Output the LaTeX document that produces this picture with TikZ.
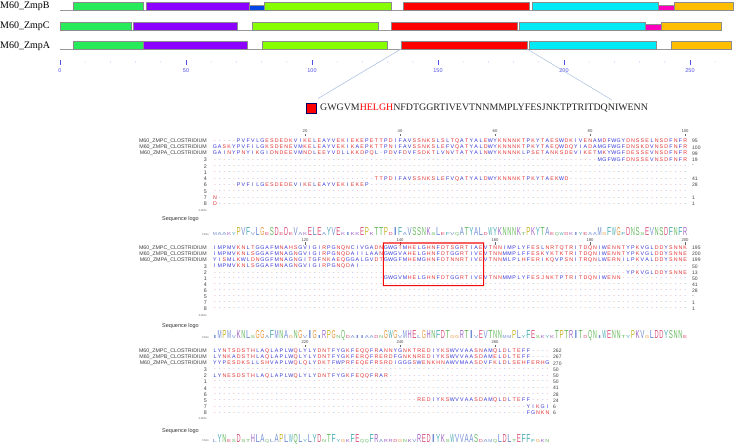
\documentclass[tikz,border=0pt]{standalone}
\usepackage{fontspec}
\usepackage{graphicx}
\setmainfont{Liberation Serif}
\newfontfamily\alnfont{Liberation Sans}
\definecolor{dgreen}{RGB}{40,235,90}
\definecolor{dpurple}{RGB}{140,0,255}
\definecolor{dblue}{RGB}{0,70,230}
\definecolor{dlime}{RGB}{135,255,0}
\definecolor{dred}{RGB}{255,0,0}
\definecolor{boxred}{RGB}{245,10,10}
\definecolor{dcyan}{RGB}{0,235,245}
\definecolor{dmag}{RGB}{255,0,190}
\definecolor{dorange}{RGB}{255,190,0}
\definecolor{seqb}{RGB}{50,50,215}
\definecolor{seqr}{RGB}{228,45,45}
\definecolor{dashr}{RGB}{240,140,140}
\definecolor{dashb}{RGB}{140,140,240}
\definecolor{rulblue}{RGB}{80,80,230}
\definecolor{zoomline}{RGB}{175,195,225}
\definecolor{lgb}{RGB}{110,140,210}
\definecolor{lgt}{RGB}{70,170,180}
\definecolor{lgo}{RGB}{235,150,60}
\definecolor{lgy}{RGB}{200,180,40}
\definecolor{lgg}{RGB}{100,185,90}
\definecolor{lgr}{RGB}{220,80,120}
\definecolor{lgp}{RGB}{160,100,200}
\makeatletter
\newcount\colidx
\newcount\gapcnt
\def\setac#1#2{\expandafter\def\csname ac@#1\endcsname{\color{#2}}}
\def\setlc#1#2{\expandafter\def\csname lc@#1\endcsname{\color{#2}}}
\@tfor\x:=AVILMFWYPGC\do{\expandafter\setac\x{seqb}}
\@tfor\x:=DEKRHSTNQJ\do{\expandafter\setac\x{seqr}}
\expandafter\def\csname ac@-\endcsname{\ifodd\colidx\color{dashr}\else\color{dashb}\fi}
\@tfor\x:=AVILM\do{\expandafter\setlc\x{lgb}}
\@tfor\x:=FWY\do{\expandafter\setlc\x{lgt}}
\@tfor\x:=G\do{\expandafter\setlc\x{lgo}}
\@tfor\x:=PC\do{\expandafter\setlc\x{lgy}}
\@tfor\x:=STNQ\do{\expandafter\setlc\x{lgg}}
\@tfor\x:=DE\do{\expandafter\setlc\x{lgr}}
\@tfor\x:=KRH\do{\expandafter\setlc\x{lgp}}
\def\alnchar#1{\global\advance\colidx by 1\relax\makebox[4.75pt][c]{\csname ac@#1\endcsname #1}}
\def\aseg#1{\aseg@loop#1\relax}
\def\aseg@loop#1{\ifx#1\relax\else\alnchar{#1}\expandafter\aseg@loop\fi}
\def\agap#1{\gapcnt=#1\relax\loop\ifnum\gapcnt>0 \alnchar{-}\advance\gapcnt by -1 \repeat}
\def\lgtall{8pt}
\def\lgshort{3pt}
\def\lgbox#1#2{\makebox[4.75pt][c]{\csname lc@#2\endcsname\resizebox{4.1pt}{#1}{#2}}}
\def\lgchar#1{\ifnum`#1>`Z\relax\uppercase{\lgbox\lgshort{#1}}\else\lgbox\lgtall{#1}\fi}
\def\alogo#1{\alogo@loop#1\relax}
\def\alogo@loop#1{\ifx#1\relax\else\lgchar{#1}\expandafter\alogo@loop\fi}
\makeatother
\tikzset{
  dom/.style={draw=black!45, line width=0.4pt},
  baseln/.style={draw=black!40, line width=0.6pt},
  toplab/.style={anchor=west, inner sep=0, font=\fontsize{10}{10}\selectfont},
  rulnumtop/.style={inner sep=0, font=\alnfont\fontsize{5.5}{5.5}\selectfont, text=rulblue},
  rowlab/.style={anchor=east, inner sep=0, font=\alnfont\fontsize{5.3}{5.3}\selectfont, text=black!75},
  rowseq/.style={anchor=west, inner sep=0, font=\alnfont\fontsize{5.3}{5.3}\selectfont},
  rownum/.style={anchor=west, inner sep=0, font=\alnfont\fontsize{5}{5}\selectfont, text=black!75},
  rulnum/.style={inner sep=0, font=\alnfont\fontsize{4.2}{4.2}\selectfont, text=black!70},
  rultick/.style={draw=black!60, line width=0.4pt},
  logolab/.style={anchor=east, inner sep=0, font=\alnfont\fontsize{5.5}{5.5}\selectfont, text=black!80},
  bitslab/.style={anchor=east, inner sep=0, font=\alnfont\fontsize{2.8}{2.8}\selectfont, text=black!60},
  logo/.style={anchor=base west, inner sep=0, font=\alnfont\fontsize{6}{6}\selectfont},
  hlbox/.style={fill=boxred, even odd rule},
}
\newcommand\alnrows[5]{%
  \foreach \lab/\content/\num [count=\k from 0] in {#5} {
    \node[rowlab] (#1l\k) at (207, {#2+#3*\k}) {\lab};
    \node[rowseq] (#1s\k) at (212.4, {#2+#3*\k}) {\global\colidx=0 \content};
    \node[rownum] (#1n\k) at (#4, {#2+#3*\k}) {\num};
  }}
\newcommand\alnruler[4]{%
  \foreach \t in {1,...,#4} {
    \pgfmathtruncatemacro\val{#3+20*\t}
    \node[rulnum] (#1r\t) at ({212.4+(20*\t-0.5)*4.75}, #2) {\val};
    \draw[rultick] (#1r\t.south) ++(0,0.6) -- ++(0,2.6);
  }}
\begin{document}
\begin{tikzpicture}[x=1pt,y=-1pt]
\useasboundingbox (0,0) rectangle (739,445);
% ---------- domain architecture ----------
\node[toplab] (nB) at (0,6.5) {M60\_ZmpB};
\node[toplab] (nC) at (0,26.5) {M60\_ZmpC};
\node[toplab] (nA) at (0,46) {M60\_ZmpA};
% ZmpB
\draw[baseln] (60,10) -- (733,10);
\draw[dom, fill=dgreen] (73,2.5) rectangle (143,10);
\draw[dom, fill=dpurple] (146,2.5) rectangle (249,10);
\draw[dom, fill=dblue] (249,5) rectangle (264,10);
\draw[dom, fill=dlime] (264,2.5) rectangle (391,10);
\draw[dom, fill=dred] (403,2.5) rectangle (529,10);
\draw[dom, fill=dcyan] (532,2.5) rectangle (658,10);
\draw[dom, fill=dmag] (658,4.7) rectangle (674,10);
\draw[dom, fill=dorange] (674,2.5) rectangle (733,10);
% ZmpC
\draw[baseln] (60,30) -- (721,30);
\draw[dom, fill=dgreen] (60,22) rectangle (131,30);
\draw[dom, fill=dpurple] (133,22) rectangle (237,30);
\draw[dom, fill=dlime] (252,22) rectangle (378,30);
\draw[dom, fill=dred] (391,22) rectangle (517,30);
\draw[dom, fill=dcyan] (519,22) rectangle (645,30);
\draw[dom, fill=dmag] (645,24.5) rectangle (661,30);
\draw[dom, fill=dorange] (661,22) rectangle (721,30);
% ZmpA
\draw[baseln] (60,49) -- (731,49);
\draw[dom, fill=dgreen] (73,41.5) rectangle (143,49);
\draw[dom, fill=dpurple] (143,41.5) rectangle (247,49);
\draw[dom, fill=dlime] (262,41.5) rectangle (387,49);
\draw[dom, fill=dred] (401,41.5) rectangle (527,49);
\draw[dom, fill=dcyan] (529,41.5) rectangle (656,49);
\draw[dom, fill=dorange] (671,41.5) rectangle (731,49);
% ruler
\foreach \n in {10,20,...,270} {
  \fill[rulblue!60] ({60+2.52*\n},62) circle (0.45);
}
\foreach \n in {0,50,...,250} {
  \draw[rulblue, line width=0.6pt] ({60+2.52*\n},60) -- ({60+2.52*\n},64.5);
  \node[rulnumtop] (t\n) at ({60+2.52*\n},70.5) {\n};
}
% zoom lines and motif
\coordinate (zlA) at (401,49);
\coordinate (zlB) at (527,49);
\coordinate (zlC) at (318,98.5);
\coordinate (zlD) at (612,100);
\draw[zoomline, line width=0.6pt] (zlA) -- (zlC);
\draw[zoomline, line width=0.6pt] (zlB) -- (zlD);
\node[draw=black!60!blue, fill=dred, line width=0.6pt, minimum size=10.5pt, inner sep=0] (sq) at (311.5,108.5) {};
\node[anchor=west, inner sep=0, font=\fontsize{9.9}{9.9}\selectfont, text=black!85] (motif) at (320,108.5)
  {GWGVM{\color{red}HELGH}NFDTGGRTIVEVTNNMMPLYFESJNKTPTRITDQNIWENN};
% ---------- alignment block 1 ----------
\alnruler{b1}{131.5}{0}{5}
\alnrows{b1}{141}{6.3}{692}{
 {M60\_ZMPC\_CLOSTRIDIUM}/{\agap{5}\aseg{PVFVLGESDEDKVIKELEAYVEKIEKEPETTPDIFAVSSNKSLSLTQATYALEWYKNNNKTPKYTAESWDKIVENAMDFWGYDNSSELNSDFNFR}}/95,
 {M60\_ZMPB\_CLOSTRIDIUM}/{\aseg{GASKYPVFILGKSDENEVMKELEAYVEKIKAEPKTTPNIFAVSSNKSLEFVQATYALDWYKNNNKTPKYTAEQWDQYIADAMGFWGFDNSKDVNSDFNFR}}/100,
 {M60\_ZMPA\_CLOSTRIDIUM}/{\aseg{GAINYPNYIKGIDNDEEVMNDLEEYVDLLKKDPQL-PDVFDVFSDKTLVNVTATYALNWYKNNNKLPSETANKSDEVIKETMKYWGFDESSEVNSDFNFR}}/99,
 3/{\agap{81}\aseg{MGFWGFDNSSEVNSDFNFR}}/19,
 2/{\agap{100}}/-,
 1/{\agap{100}}/{},
 4/{\agap{34}\aseg{TTPDIFAVSSNKSLEFVQATYALDWYKNNNKTPKYTAEKWD}\agap{25}}/41,
 6/{\agap{5}\aseg{PVFILGESDEDEVIKELEAYVEKIEKEP}\agap{67}}/28,
 5/{\agap{100}}/{},
 7/{\aseg{N}\agap{99}}/1,
 8/{\aseg{D}\agap{99}}/1}
\node[bitslab] (b1bits) at (207,210) {4.0bits};
\node[logolab] (b1lg) at (199,219.5) {Sequence logo};
\node[bitslab] (b1z) at (209,234) {0 bits};
\node[logo] (logo1) at (212.4,235.5) {\alogo{maakyPVFvLGeSDeDeVakELEaYVEkikkEPkTTPdIFaVSSNKsLefvqATYALdWYKNNNKtPKYTAeqwdkiyeaaMgFWGfDNSsEVNSDFNFR}};
% ---------- alignment block 2 ----------
\alnruler{b2}{240}{100}{5}
\alnrows{b2}{248}{6.1}{692}{
 {M60\_ZMPC\_CLOSTRIDIUM}/{\aseg{IMPMVKNLTGGAFMNAHSGVIGIRPGNQNCIVGADNGWGTMHELGHNFDTSGRTIAEVTNNIMPLYFESLNRTQTRITDQNIWENNTYPKVGLDDYSNNK}}/195,
 {M60\_ZMPB\_CLOSTRIDIUM}/{\aseg{IMPMVKNLSGGAFMNAGNGVIGIRPGNQDAIILAANGWGVAHELGHNFDTGGRTIVEVTNNMMPLFFESKYKTKTRITDQNIWENNTYPKVGLDDYSNNE}}/200,
 {M60\_ZMPA\_CLOSTRIDIUM}/{\aseg{YISMLKWLDNGGFMNAGNGITGFNKAEQGGALGVDTGWGFMHEMGHNFDTNNRTIVEVTNNMLPLHFERIKQVPSNITRQNLWERNILPKVALDDYSNNE}}/199,
 3/{\aseg{IMPMVKNLSGGAFMNAGNGVIGIRPGNQDAI}\agap{69}}/50,
 2/{\agap{87}\aseg{YPKVGLDDYSNNE}}/13,
 1/{\agap{36}\aseg{GWGVMHELGHNFDTGGRTIVEVTNNMMPLYFESJNKTPTRITDQNIWENN}\agap{14}}/50,
 4/{\agap{100}}/41,
 6/{\agap{100}}/28,
 5/{\agap{100}}/-,
 7/{\agap{100}}/1,
 8/{\agap{100}}/1}
% red highlight frame around the motif columns
\fill[hlbox] (382.8,242.4) rectangle (484.2,286.1) (383.9,243.5) rectangle (483.1,285.0);
\node[bitslab] (b2bits) at (207,315) {4.0bits};
\node[logolab] (b2lg) at (199,326) {Sequence logo};
\node[bitslab] (b2z) at (209,337) {0 bits};
\node[logo] (logo2) at (212.4,338.5) {\alogo{iMPMvKNLsGGaFMNAgNGvIGiRPGnQdaiiaadnGWGvMHElGHNFDTggRTIvEVTNNmmPLyFEskykTPTRITdQNiWENNtyPKVgLDDYSNNe}};
% ---------- alignment block 3 ----------
\alnruler{b3}{342.5}{200}{3}
\alnrows{b3}{351}{6.2}{553}{
 {M60\_ZMPC\_CLOSTRIDIUM}/{\aseg{LYNTSDSTHLAQLAPLWQLYLYDNTFYGKFEQQFRANNYGNKTREDIYKSWVVAASNAMQLDLTEFF}\agap{4}}/262,
 {M60\_ZMPB\_CLOSTRIDIUM}/{\aseg{LYNKADSTHLAQLAPLWQLYLYDNTFYGKFERQFRERDFGNKNREDIYKSWVVAASDAMELDLTEFF}\agap{4}}/267,
 {M60\_ZMPA\_CLOSTRIDIUM}/{\aseg{YYPESDKSLLSHVAPLWQLQLYDKTFWPRFEQEFRSRDIGGGSWENKHNAWVMAASDVFKLDLSEHFERHG}}/270,
 3/{\agap{71}}/50,
 2/{\aseg{LYNESDSTHLAQLAPLWQLYLYDNTFYGKFEQQFRAR}\agap{34}}/50,
 1/{\agap{71}}/50,
 4/{\agap{71}}/41,
 6/{\agap{71}}/28,
 5/{\agap{43}\aseg{REDIYKSWVVAASDAMQLDLTEFF}\agap{4}}/24,
 7/{\agap{66}\aseg{YIKGI}}/6,
 8/{\agap{66}\aseg{FGNKN}}/6}
\node[bitslab] (b3bits) at (207,418.5) {4.0bits};
\node[logolab] (b3lg) at (199,431.5) {Sequence logo};
\node[bitslab] (b3z) at (209,440) {0 bits};
\node[logo] (logo3) at (212.4,442) {\alogo{lYNesDstHLAqlAPLWQLyLYDnTFygkFEqqFRarrdgnkvREDIYKsWVVAASdamqLDLtEFFfgkn}};
\end{tikzpicture}
\end{document}
